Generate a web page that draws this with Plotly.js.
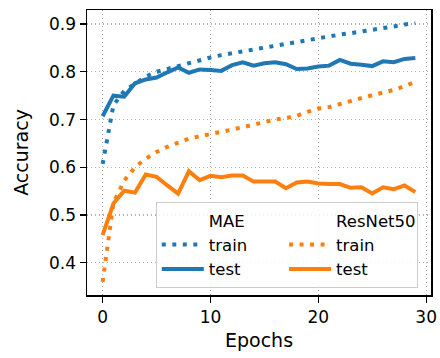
<!DOCTYPE html>
<html>
<head>
<meta charset="utf-8">
<script src="https://cdn.plot.ly/plotly-3.0.1.min.js"></script>
<style>html,body{margin:0;padding:0;background:#fff;}#chart{width:440px;height:358px;}</style>
</head>
<body>
<div id="chart"></div>
<script>
const epochs = Array.from({length: 30}, (_, i) => i);
const maeTrain = [0.607, 0.73, 0.76, 0.774, 0.79, 0.80, 0.806, 0.812, 0.82, 0.826, 0.83, 0.835, 0.839, 0.843, 0.847, 0.851, 0.855, 0.859, 0.864, 0.867, 0.870, 0.874, 0.878, 0.881, 0.884, 0.887, 0.891, 0.895, 0.899, 0.902];
const maeTest = [0.707, 0.750, 0.748, 0.776, 0.784, 0.788, 0.799, 0.809, 0.798, 0.805, 0.804, 0.802, 0.814, 0.820, 0.813, 0.818, 0.820, 0.816, 0.806, 0.807, 0.811, 0.813, 0.825, 0.817, 0.815, 0.812, 0.822, 0.820, 0.827, 0.829];
const resTrain = [0.36, 0.525, 0.572, 0.60, 0.618, 0.632, 0.643, 0.652, 0.66, 0.665, 0.669, 0.674, 0.679, 0.684, 0.69, 0.695, 0.70, 0.703, 0.708, 0.716, 0.723, 0.726, 0.733, 0.739, 0.745, 0.751, 0.756, 0.762, 0.77, 0.779];
const resTest = [0.458, 0.524, 0.551, 0.547, 0.585, 0.580, 0.562, 0.545, 0.592, 0.573, 0.582, 0.579, 0.583, 0.583, 0.570, 0.571, 0.570, 0.556, 0.568, 0.570, 0.566, 0.565, 0.565, 0.557, 0.558, 0.545, 0.558, 0.554, 0.562, 0.548];
const xTicks = [0, 10, 20, 30];
const yTicks = [0.4, 0.5, 0.6, 0.7, 0.8, 0.9];
const yTickText = ['0.4', '0.5', '0.6', '0.7', '0.8', '0.9'];

const blue = '#1f77b4', orange = '#ff7f0e';
const dotted = '4px,6.5px';
const header = (name) => ({x: [null], y: [null], mode: 'lines', name: name, line: {color: 'rgba(0,0,0,0)', width: 0}, hoverinfo: 'skip'});
const data = [
  header('MAE'),
  header('ResNet50'),
  {x: epochs, y: maeTrain, mode: 'lines', name: 'train', line: {color: blue, width: 4, dash: dotted}},
  {x: epochs, y: resTrain, mode: 'lines', name: 'train', line: {color: orange, width: 4, dash: dotted}},
  {x: epochs, y: maeTest, mode: 'lines', name: 'test', line: {color: blue, width: 4}},
  {x: epochs, y: resTest, mode: 'lines', name: 'test', line: {color: orange, width: 4}}
];
const layout = {
  width: 440, height: 358,
  margin: {l: 87, r: 9, t: 10, b: 63},
  paper_bgcolor: '#fff', plot_bgcolor: '#fff',
  font: {family: 'DejaVu Sans', size: 17, color: '#000'},
  showlegend: true,
  xaxis: {
    range: [-1.45, 30.45], tickvals: xTicks, ticktext: xTicks.map(String),
    showgrid: true, gridcolor: '#b0b0b0', griddash: '1.3px,2.7px', gridwidth: 1.3,
    zeroline: false, showline: true, linecolor: '#000', linewidth: 1.5, mirror: true,
    ticks: 'outside', ticklen: 6, tickwidth: 1.3, tickcolor: '#000',
    tickfont: {family: 'DejaVu Sans', size: 17, color: '#000'},
    title: {text: 'Epochs', font: {family: 'DejaVu Sans', size: 19, color: '#000'}, standoff: 8}
  },
  yaxis: {
    range: [0.3325, 0.9295], tickvals: yTicks, ticktext: yTickText,
    showgrid: true, gridcolor: '#b0b0b0', griddash: '1.3px,2.7px', gridwidth: 1.3,
    zeroline: false, showline: true, linecolor: '#000', linewidth: 1.5, mirror: true,
    ticks: 'outside', ticklen: 6, tickwidth: 1.3, tickcolor: '#000',
    tickfont: {family: 'DejaVu Sans', size: 17, color: '#000'},
    title: {text: 'Accuracy', font: {family: 'DejaVu Sans', size: 19, color: '#000'}, standoff: 15}
  },
  legend: {
    orientation: 'h', entrywidthmode: 'fraction', entrywidth: 0.37,
    x: 0.2, xanchor: 'left', y: 0.025, yanchor: 'bottom',
    bgcolor: 'rgba(255,255,255,0.85)', bordercolor: '#cccccc', borderwidth: 1,
    font: {family: 'DejaVu Sans', size: 16.5, color: '#000'},
    traceorder: 'normal', itemwidth: 42
  }
};
Plotly.newPlot('chart', data, layout, {staticPlot: true, displayModeBar: false});
</script>
</body>
</html>
